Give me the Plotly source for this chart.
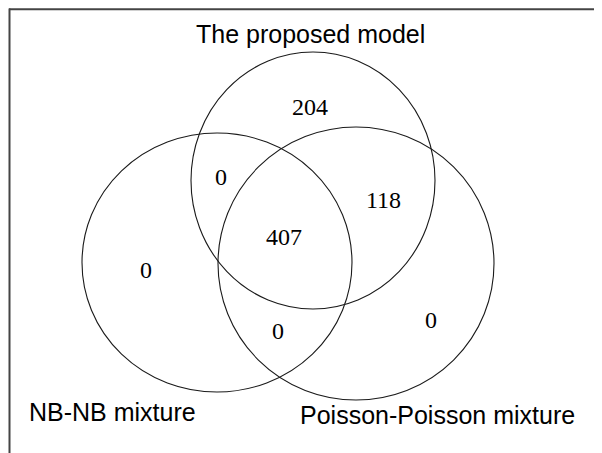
import plotly.graph_objects as go

# ---- data ----
set_names = ["The proposed model", "NB-NB mixture", "Poisson-Poisson mixture"]
# region membership codes: (proposed, NB-NB, Poisson)
region_codes = ["100", "110", "101", "111", "010", "011", "001"]
region_counts = [204, 0, 118, 407, 0, 0, 0]

# ---- layout (pixel geometry, page coordinates) ----
W, H = 602, 453
OFF = 8  # page body margin
circles = {  # x0, y0, x1, y1 of each set's ellipse
    "The proposed model": (191, 52, 435, 309),
    "NB-NB mixture": (82, 133, 352, 392),
    "Poisson-Poisson mixture": (218, 127, 494, 400),
}
name_pos = {
    "The proposed model": (310, 34),
    "NB-NB mixture": (112, 412),
    "Poisson-Poisson mixture": (437, 415),
}
region_pos = {
    "100": (310, 107),
    "110": (221, 177),
    "101": (383, 200),
    "111": (284, 237),
    "010": (146, 270),
    "011": (278, 331),
    "001": (431, 320),
}

fig = go.Figure()
fig.add_trace(go.Scatter(x=[OFF, W + OFF], y=[OFF, H + OFF], mode="markers",
                         marker=dict(opacity=0), hoverinfo="skip", showlegend=False))

shapes = []
for name in set_names:
    x0, y0, x1, y1 = circles[name]
    shapes.append(dict(type="circle", xref="x", yref="y", x0=x0, y0=y0, x1=x1, y1=y1,
                       line=dict(color="#1a1a1a", width=1.1), fillcolor="rgba(0,0,0,0)"))
# frame (top and left edges visible)
shapes.append(dict(type="line", xref="x", yref="y", x0=9, y0=9.2, x1=W + 20, y1=9.2,
                   line=dict(color="#444444", width=2)))
shapes.append(dict(type="line", xref="x", yref="y", x0=9.5, y0=8.5, x1=9.5, y1=H + 20,
                   line=dict(color="#444444", width=2)))

annotations = []
for name in set_names:
    x, y = name_pos[name]
    annotations.append(dict(x=x, y=y, xref="x", yref="y", text=name, showarrow=False,
                            xanchor="center", yanchor="middle",
                            font=dict(family="Liberation Sans, Arial, sans-serif", size=25, color="#000000")))
for code, cnt in zip(region_codes, region_counts):
    x, y = region_pos[code]
    annotations.append(dict(x=x, y=y, xref="x", yref="y", text=str(cnt), showarrow=False,
                            xanchor="center", yanchor="middle",
                            font=dict(family="Liberation Serif, Times New Roman, serif", size=24, color="#000000")))

fig.update_layout(
    width=W, height=H,
    margin=dict(l=0, r=0, t=0, b=0),
    paper_bgcolor="white", plot_bgcolor="white",
    xaxis=dict(range=[OFF, W + OFF], visible=False, fixedrange=True),
    yaxis=dict(range=[H + OFF, OFF], visible=False, fixedrange=True),
    shapes=shapes, annotations=annotations, showlegend=False,
)
fig.write_html("out.html")
